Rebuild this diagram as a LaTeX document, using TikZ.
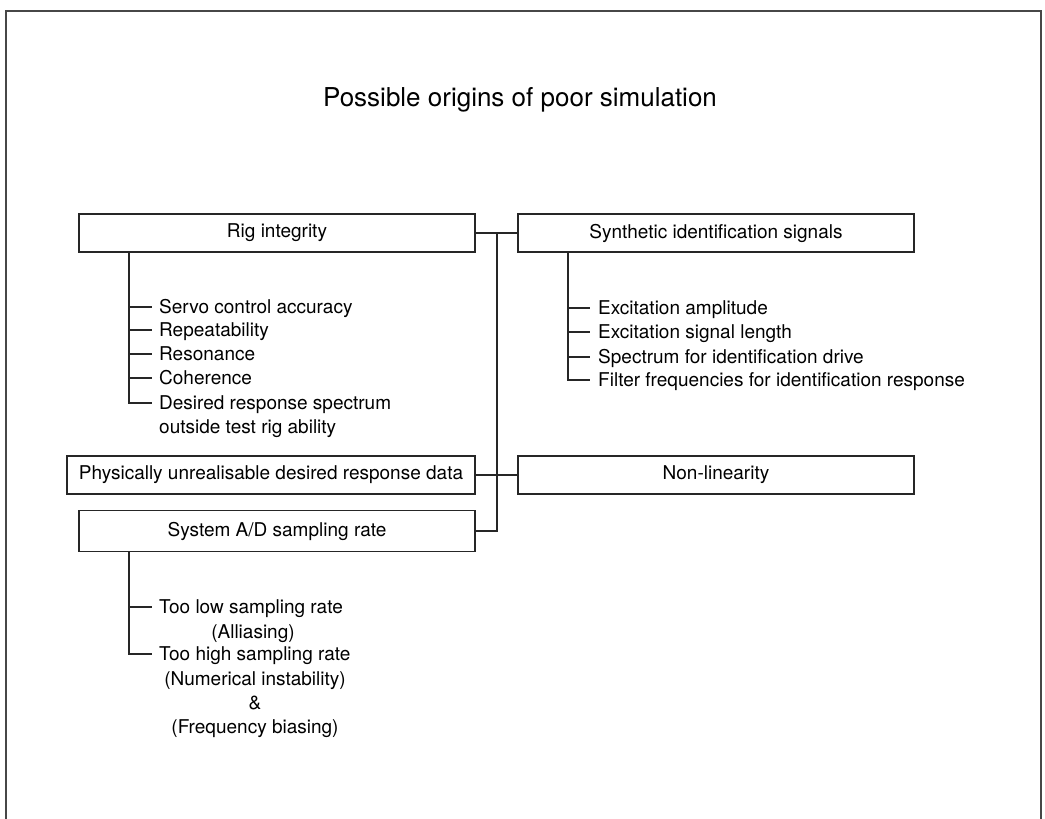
\documentclass[tikz,border=0pt]{standalone}
\usepackage{fontspec}
\setmainfont{TeX Gyre Heros}

\begin{document}
\begin{tikzpicture}[x=1pt,y=-1pt,
    box/.style={draw=black!85,line width=1.9pt,rectangle,inner sep=0pt,
      minimum width=396pt,minimum height=38pt,font=\fontsize{19}{24}\selectfont},
    item/.style={anchor=west,inner sep=0pt,text height=13.5pt,text depth=0pt,
      font=\fontsize{19}{24}\selectfont},
    link/.style={draw=black!85,line width=1.9pt}]
      \useasboundingbox (0,0) rectangle (1045,819);
      \draw[line width=2.4pt,black!72] (6,819) -- (6,11) -- (1041,11) -- (1041,819);

      \node (title) at (520,100) [font=\fontsize{26}{30}\selectfont] {Possible origins of poor simulation};

      \node (rig) at (277,233) [box] {Rig integrity};
      \node (synth) at (716,233) [box] {Synthetic identification signals};
      \node (phys) at (271,475) [box,minimum width=408pt] {Physically unrealisable desired response data};
      \node (nonlin) at (716,475) [box] {Non-linearity};
      \node (sysad) at (277,531) [box,minimum height=41pt] {System A/D sampling rate};

      \node (r1) at (159,307) [item] {Servo control accuracy};
      \node (r2) at (159,330) [item] {Repeatability};
      \node (r3) at (159,354) [item] {Resonance};
      \node (r4) at (159,378) [item] {Coherence};
      \node (r5) at (159,403) [item] {Desired response spectrum};
      \node (r6) at (159,427) [item] {outside test rig ability};

      \node (s1) at (598,308) [item] {Excitation amplitude};
      \node (s2) at (598,332) [item] {Excitation signal length};
      \node (s3) at (598,357) [item] {Spectrum for identification drive};
      \node (s4) at (598,380) [item] {Filter frequencies for identification response};

      \node (a1) at (159,607) [item] {Too low sampling rate};
      \node (a2) at (253,632) [item,anchor=center] {(Alliasing)};
      \node (a3) at (159,654) [item] {Too high sampling rate};
      \node (a4) at (255,679) [item,anchor=center] {(Numerical instability)};
      \node (a5) at (255,703) [item,anchor=center] {\&};
      \node (a6) at (255,727) [item,anchor=center] {(Frequency biasing)};

      \coordinate (bus) at (497,233);
      \coordinate (rigt) at (129,252);
      \coordinate (synt) at (568,252);
      \coordinate (sadt) at (129,552);

      \draw[link] (rig.east) -- (synth.west);
      \draw[link] (bus) -- (bus |- sysad.east) -- (sysad.east);
      \draw[link] (phys.east) -- (nonlin.west);

      \draw[link] (rigt) |- ([xshift=-7pt]r5.west);
      \foreach \n in {r1,r2,r3,r4}
        \draw[link] (rigt |- \n.west) -- ([xshift=-7pt]\n.west);

      \draw[link] (synt) |- ([xshift=-8pt]s4.west);
      \foreach \n in {s1,s2,s3}
        \draw[link] (synt |- \n.west) -- ([xshift=-8pt]\n.west);

      \draw[link] (sadt) |- ([xshift=-7pt]a3.west);
      \draw[link] (sadt |- a1.west) -- ([xshift=-7pt]a1.west);
\end{tikzpicture}
\end{document}
